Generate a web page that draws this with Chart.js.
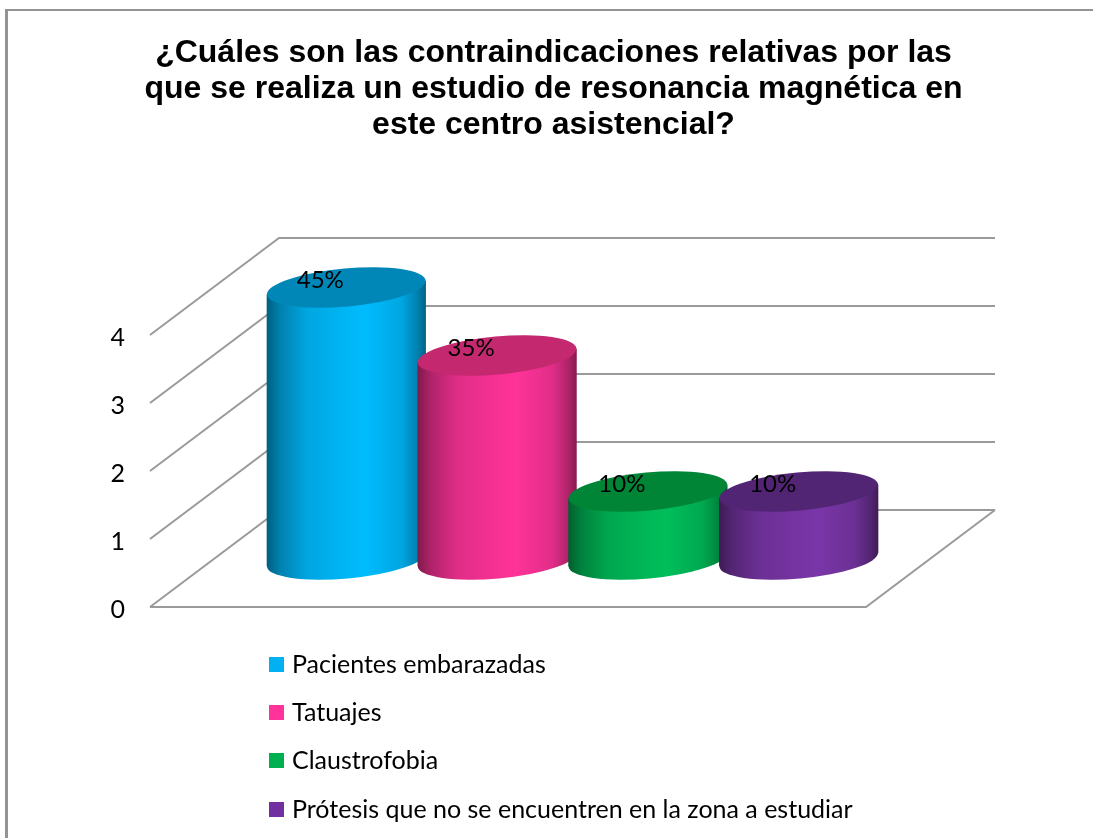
<!DOCTYPE html>
<html lang="es">
<head>
<meta charset="utf-8">
<title>Contraindicaciones relativas</title>
<script src="https://cdn.jsdelivr.net/npm/chart.js@4"></script>
<style>
    html, body { margin: 0; padding: 0; background: #fff; overflow: hidden; }
    #wrap { position: relative; width: 1093px; height: 838px; overflow: hidden; }
    #frame { position: absolute; left: 5px; top: 9px; width: 1200px; height: 1000px; border: 2px solid #939393; border-left-width: 3px; }
    canvas { position: absolute; left: 0; top: 0; }
</style>
</head>
<body>
<div id="wrap">
    <div id="frame"></div>
    <canvas id="mriChart" width="1093" height="838"></canvas>
</div>
<script>
const titleLines = [
    '¿Cuáles son las contraindicaciones relativas por las',
    'que se realiza un estudio de resonancia magnética en',
    'este centro asistencial?'
];
const seriesNames = [
    'Pacientes embarazadas',
    'Tatuajes',
    'Claustrofobia',
    'Prótesis que no se encuentren en la zona a estudiar'
];
const seriesValues = [4, 3, 1, 1];
const shareLabels = ['45%', '35%', '10%', '10%'];
const legendColors = ['#00B0F0', '#FF3399', '#00B050', '#7030A0'];
const bodyColors = ['#00BCFF', '#FF3399', '#00BE5A', '#7A36A8'];
const capColors = ['#0087B8', '#C4296F', '#008537', '#522474'];
const yTickMax = 4;

// how far the back wall sits from the front plane
const depthX = 129;
const depthY = 97;
const gridColor = '#9a9a9a';
const labelFont = '24px Lato, "Liberation Sans", sans-serif';
const legendFont = '25px Lato, "Liberation Sans", sans-serif';

// multiply a hex colour, used for the shading round the cylinders
const shade = (hex, k) => {
    const n = parseInt(hex.slice(1), 16);
    const c = [n >> 16, (n >> 8) & 255, n & 255].map(v => Math.min(255, Math.round(v * k)));
    return `rgb(${c[0]}, ${c[1]}, ${c[2]})`;
};

// walls and floor, drawn behind the bars
const depthGrid = {
    id: 'depthGrid',
    beforeDatasetsDraw(chart) {
        const { ctx, chartArea, scales: { y } } = chart;
        const left = chartArea.left;
        const right = chartArea.right;
        ctx.save();
        ctx.strokeStyle = gridColor;
        ctx.lineWidth = 2;
        ctx.beginPath();
        y.ticks.forEach(tick => {
            const py = y.getPixelForValue(tick.value);
            ctx.moveTo(left, py);
            ctx.lineTo(left + depthX, py - depthY);
            ctx.lineTo(right + depthX, py - depthY);
        });
        const floor = y.getPixelForValue(0);
        ctx.moveTo(left, floor);
        ctx.lineTo(right, floor);
        ctx.lineTo(right + depthX, floor - depthY);
        ctx.stroke();
        ctx.restore();
    }
};

// each transparent bar becomes a tilted cylinder set halfway into the depth
const cylinders = {
    id: 'cylinders',
    afterDatasetsDraw(chart) {
        const { ctx } = chart;
        const tilt = 5.16 * Math.PI / 180;
        const capHeight = 19;
        const edgeLift = 6.75;
        const liftY = 47.5;
        chart.data.datasets.forEach((ds, i) => {
            const bar = chart.getDatasetMeta(i).data[0];
            const cx = bar.x + depthX / 2;
            const topY = bar.y - liftY;
            const baseY = bar.base - liftY;
            const half = bar.width / 2;
            const xL = cx - half;
            const xR = cx + half;

            const body = ctx.createLinearGradient(xL, 0, xR, 0);
            const c = bodyColors[i];
            body.addColorStop(0, shade(c, 0.5));
            body.addColorStop(0.08, shade(c, 0.68));
            body.addColorStop(0.25, shade(c, 0.88));
            body.addColorStop(0.45, shade(c, 0.95));
            body.addColorStop(0.62, shade(c, 1));
            body.addColorStop(0.85, shade(c, 0.88));
            body.addColorStop(0.95, shade(c, 0.68));
            body.addColorStop(1, shade(c, 0.52));

            ctx.save();
            ctx.fillStyle = body;
            ctx.beginPath();
            ctx.moveTo(xL, topY + edgeLift);
            ctx.lineTo(xL, baseY + edgeLift);
            ctx.lineTo(xR, baseY - edgeLift);
            ctx.lineTo(xR, topY - edgeLift);
            ctx.closePath();
            ctx.fill();
            ctx.beginPath();
            ctx.ellipse(cx, baseY, half, capHeight, -tilt, 0, Math.PI * 2);
            ctx.fill();

            ctx.fillStyle = capColors[i];
            ctx.beginPath();
            ctx.ellipse(cx, topY, half, capHeight, -tilt, 0, Math.PI * 2);
            ctx.fill();
            ctx.restore();
        });

        // share labels sit on the caps, off to the left of centre
        chart.data.datasets.forEach((ds, i) => {
            const bar = chart.getDatasetMeta(i).data[0];
            ctx.save();
            ctx.font = labelFont;
            ctx.fillStyle = '#000';
            ctx.textAlign = 'center';
            ctx.textBaseline = 'middle';
            ctx.fillText(shareLabels[i], bar.x + depthX / 2 - 26, bar.y - liftY - 7);
            ctx.restore();
        });
    }
};

// vertical legend under the plot
const stackedLegend = {
    id: 'stackedLegend',
    afterDraw(chart) {
        const { ctx } = chart;
        ctx.save();
        ctx.font = legendFont;
        ctx.textBaseline = 'alphabetic';
        chart.data.datasets.forEach((ds, i) => {
            const rowY = 673 + i * 48.2;
            ctx.fillStyle = legendColors[i];
            ctx.fillRect(269, Math.round(rowY - 16), 15, 15);
            ctx.fillStyle = '#000';
            ctx.fillText(ds.label, 292, rowY);
        });
        ctx.restore();
    }
};

new Chart(document.getElementById('mriChart'), {
    type: 'bar',
    data: {
        labels: [''],
        datasets: seriesNames.map((name, i) => ({
            label: name,
            data: [seriesValues[i]],
            backgroundColor: 'transparent',
            categoryPercentage: 0.8425,
            barPercentage: 1.056
        }))
    },
    plugins: [depthGrid, cylinders, stackedLegend],
    options: {
        responsive: false,
        animation: false,
        layout: { padding: { left: 14, right: 0, top: 0, bottom: 231 } },
        plugins: {
            legend: { display: false },
            tooltip: { enabled: false },
            title: {
                display: true,
                text: titleLines,
                color: '#000',
                font: { family: '"Liberation Sans", Arial, sans-serif', size: 32, weight: 'bold', lineHeight: 1.125 },
                padding: { top: 35, bottom: 192 }
            }
        },
        scales: {
            x: { display: false },
            y: {
                min: 0,
                max: yTickMax,
                ticks: {
                    stepSize: 1,
                    padding: 25,
                    labelOffset: 3,
                    color: '#000',
                    font: { family: 'Lato, "Liberation Sans", sans-serif', size: 25 }
                },
                grid: { display: false, drawTicks: false },
                border: { display: false },
                afterFit(scale) { scale.width = 136; }
            },
            // keeps the room the back wall needs to the right of the front plane
            depthRoom: {
                position: 'right',
                ticks: { display: false },
                grid: { display: false, drawTicks: false },
                border: { display: false },
                afterFit(scale) { scale.width = 227; }
            }
        }
    }
});
</script>
</body>
</html>
